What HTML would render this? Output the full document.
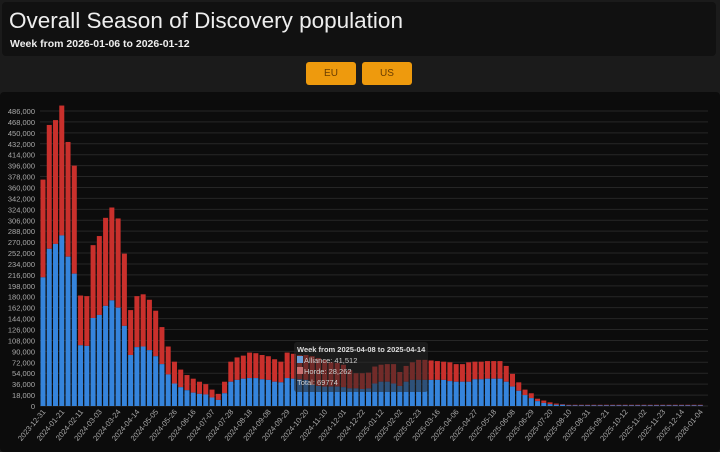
<!DOCTYPE html>
<html><head><meta charset="utf-8"><style>
body{margin:0;width:720px;height:452px;background:#1b1b1b;font-family:"Liberation Sans",sans-serif;overflow:hidden;position:relative}
#hdr{position:absolute;left:2px;top:2px;width:714px;height:54px;background:#111;border-radius:4px}
#title{position:absolute;left:7px;top:6px;color:#eee;font-size:22.5px}
#sub{position:absolute;left:8px;top:36px;color:#eee;font-size:10.5px;font-weight:bold}
.btn{position:absolute;top:62px;width:50px;height:23px;background:#ee9a0d;border-radius:3px;color:#6a3d00;font-size:10px;text-align:center;line-height:23px}
#chartbox{position:absolute;left:0;top:92px;width:720px;height:360px;background:#0c0c0c;border-radius:4px}
</style></head><body>
<div id="hdr">
<div id="title">Overall Season of Discovery population</div>
<div id="sub">Week from 2026-01-06 to 2026-01-12</div>
</div>
<div class="btn" style="left:306px">EU</div>
<div class="btn" style="left:362px">US</div>
<div id="chartbox"></div>
<svg id="chart" width="720" height="452" style="position:absolute;left:0;top:0"></svg>
<script>
const totals=[373,463,471,495,435,396,182,181,265,280,310,327,309,251,158,181,184,175,157,130,98,73,60,51,45,40,36,27,20,40,73,80,83,88,87,84,82,77,73,88,86,84,84,82,79,76,72,71,68,59,54,54,55,65,68,69,69,56,66,72,76,76,75,74,73,72,69,69,72,73,73,74,74,74,66,53,39,27,21,12,9,6,4,3,2,2,2,2,2,2,2,2,2,2,2,2,2,2,2,2,2,2,2,2,2,2];
const alliance=[212,259,267,281,246,218,100,99,145,150,165,174,162,132,84,97,98,92,82,69,52,37,31,26,22,20,19,14,10,21,40,43,45,46,46,44,43,40,39,46,45,44,43,35,33,32,32,32,31,29,29,28,29,37,40,40,37,33,40,43,43,43,43,43,43,41,40,40,40,44,44,45,45,45,40,32,25,18,13,8,5,3,2,2,1,1,1,1,1,1,1,1,1,1,1,1,1,1,1,1,1,1,1,1,1,1];
const yTicks=[0,18,36,54,72,90,108,126,144,162,180,198,216,234,252,270,288,306,324,342,360,378,396,414,432,450,468,486];
const start=new Date(Date.UTC(2023,11,31));
const NS='http://www.w3.org/2000/svg';
const svg=document.getElementById('chart');
const y0=406,yTop=111,x0=43,step=6.26,bw=5;
const yS=v=>y0-(v/486)*(y0-yTop);
const xS=i=>x0+i*step;
function mk(t,a){const e=document.createElementNS(NS,t);for(const k in a)e.setAttribute(k,a[k]);svg.appendChild(e);return e;}
yTicks.forEach(v=>{
 const g=mk('line',{x1:40,x2:708,y1:yS(v),y2:yS(v),stroke:'#262626','stroke-width':1});
 
 
 const t=mk('text',{x:35,y:yS(v)+3,'text-anchor':'end',fill:'#aaa','font-size':7.5,'font-family':'Liberation Sans,sans-serif'});
 t.textContent=v===0?'0':v+',000';
 
 
});
totals.forEach((tot,i)=>{
 const al=alliance[i],x=xS(i)-bw/2;
 const r=mk('rect',{x:x,y:yS(tot),width:bw,height:yS(al)-yS(tot),fill:'#c9302c'});
 
 
 const b=mk('rect',{x:x,y:yS(al),width:bw,height:y0-yS(al),fill:'#3584dc'});
 
 
 if(i%3===0){
  const d=new Date(start.getTime()+i*7*86400000);
  const s=d.toISOString().slice(0,10);
  const lx=xS(i)+3,ly=412;
  const t=mk('text',{x:lx,y:ly,'text-anchor':'end',fill:'#aaa','font-size':7.5,'font-family':'Liberation Sans,sans-serif',transform:`rotate(-50 ${lx} ${ly})`});
  t.textContent=s;
  
  
 }
});
const tt=mk('rect',{x:294,y:342,width:134,height:50,fill:'rgba(40,40,40,0.55)',rx:3});


const lines=[['Week from 2025-04-08 to 2025-04-14',297,352,'#ddd','bold',null],['Alliance: 41,512',304,363,'#ccc','normal','#6a9fd8'],['Horde: 28,262',304,374,'#ccc','normal','#c87070'],['Total: 69774',297,385,'#ccc','normal',null]];
lines.forEach(l=>{
 if(l[5]){const sq=mk('rect',{x:297,y:l[2]-7,width:6,height:7,fill:l[5]});}
 const t=mk('text',{x:l[1],y:l[2],fill:l[3],'font-size':7.5,'font-weight':l[4],'font-family':'Liberation Sans,sans-serif'});
 t.textContent=l[0];
 
 
});
</script>
</body></html>
